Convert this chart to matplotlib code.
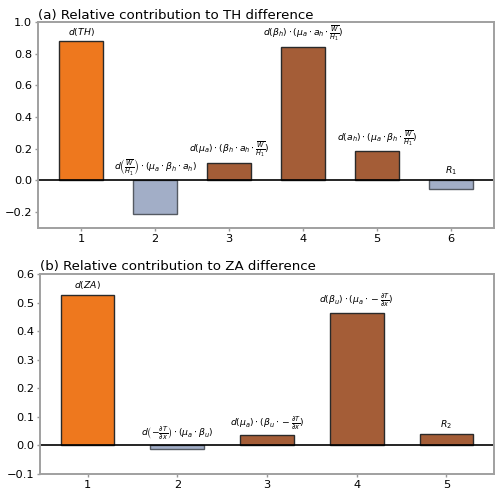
import matplotlib
matplotlib.use("Agg")
import matplotlib.pyplot as plt
import numpy as np

# Panel (a)
cats_a = [1, 2, 3, 4, 5, 6]
vals_a = [0.878, -0.213, 0.112, 0.845, 0.184, -0.055]
labels_a = [
    r'$d(TH)$',
    r'$d\left(\frac{\overline{W}}{H_1}\right)\cdot(\mu_a\cdot\beta_h\cdot a_h)$',
    r'$d(\mu_a)\cdot(\beta_h\cdot a_h\cdot\frac{\overline{W}}{H_1})$',
    r'$d(\beta_h)\cdot(\mu_a\cdot a_h\cdot\frac{\overline{W}}{H_1})$',
    r'$d(a_h)\cdot(\mu_a\cdot\beta_h\cdot\frac{\overline{W}}{H_1})$',
    r'$R_1$',
]
kinds_a = ['total', 'neg', 'pos', 'pos', 'pos', 'neg']
yticks_a = [-0.2, 0.0, 0.2, 0.4, 0.6, 0.8, 1.0]

# Panel (b)
cats_b = [1, 2, 3, 4, 5]
vals_b = [0.527, -0.014, 0.035, 0.464, 0.040]
labels_b = [
    r'$d(ZA)$',
    r'$d\left(-\frac{\partial T}{\partial x}\right)\cdot(\mu_a\cdot\beta_u)$',
    r'$d(\mu_a)\cdot(\beta_u\cdot-\frac{\partial T}{\partial x})$',
    r'$d(\beta_u)\cdot(\mu_a\cdot-\frac{\partial T}{\partial x})$',
    r'$R_2$',
]
kinds_b = ['total', 'neg', 'pos', 'pos', 'pos']
yticks_b = [-0.1, 0.0, 0.1, 0.2, 0.3, 0.4, 0.5, 0.6]

fill = {'total': '#ee781e', 'pos': '#a45d37', 'neg': '#a2aec7'}
edge = {'total': '#2a2a2a', 'pos': '#2a2a2a', 'neg': '#555a62'}

fig = plt.figure(figsize=(5.0, 4.94), dpi=100)
ax1 = fig.add_axes([0.076, 0.5385, 0.912, 0.417])
ax2 = fig.add_axes([0.080, 0.0405, 0.908, 0.405])


def draw(ax, cats, vals, labels, kinds, yticks, ylim, title):
    ax.bar(cats, vals, width=0.6,
           color=[fill[k] for k in kinds],
           edgecolor=[edge[k] for k in kinds], linewidth=1.0)
    ax.axhline(0, color='black', linewidth=1.2)
    for x, v, lab in zip(cats, vals, labels):
        ax.annotate(lab, xy=(x, max(v, 0)), xytext=(0, 2.5),
                    textcoords='offset points', ha='center', va='bottom',
                    fontsize=6.7)
    ax.set_ylim(*ylim)
    ax.set_yticks(yticks)
    ax.set_yticklabels([f'{t:.1f}'.replace('-', '\u2212') for t in yticks])
    ax.set_xticks(cats)
    ax.tick_params(labelsize=8.2, color='#999999', length=2.2, width=1.0,
                   pad=2.2)
    for s in ax.spines.values():
        s.set_color('#a0a0a0')
        s.set_linewidth(1.4)
    ax.set_title(title, loc='left', fontsize=9.6, pad=2.5)


draw(ax1, cats_a, vals_a, labels_a, kinds_a, yticks_a, (-0.3, 1.0),
     '(a) Relative contribution to TH difference')
draw(ax2, cats_b, vals_b, labels_b, kinds_b, yticks_b, (-0.1, 0.6),
     '(b) Relative contribution to ZA difference')

fig.savefig('out.png', dpi=100)
